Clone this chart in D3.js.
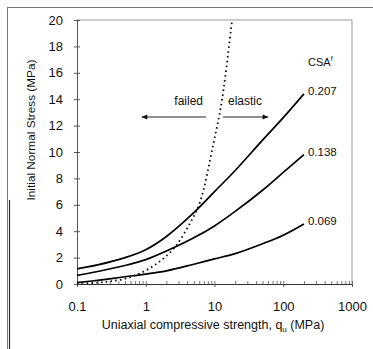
<!DOCTYPE html>
<html><head><meta charset="utf-8">
<script src="https://cdn.jsdelivr.net/npm/d3@7"></script>
<style>
html,body{margin:0;padding:0;background:#fff;}
svg{display:block;font-family:"Liberation Sans",Arial,sans-serif;}
</style></head>
<body>
<svg id="c" width="373" height="349"></svg>
<script>
// ---- data ----
const qValues = [0.1, 0.2, 0.5, 1, 2, 5, 10, 20, 50, 100, 200];
const csa207 = [1.15, 1.45, 2.0, 2.6, 3.6, 5.4, 7.0, 8.6, 10.9, 12.6, 14.4];
const csa138 = [0.65, 0.95, 1.4, 1.85, 2.5, 3.5, 4.4, 5.5, 7.1, 8.45, 9.8];
const csa069 = [0.1, 0.28, 0.55, 0.75, 1.0, 1.5, 1.9, 2.3, 3.05, 3.7, 4.55];
const seriesLabels = ["0.207", "0.138", "0.069"];
const boundaryQ = [0.1, 0.2, 0.3, 0.5, 0.82, 1.5, 2.66, 4.4, 6.15, 9.6, 12.9, 18];
const boundaryS = [0.02, 0.1, 0.2, 0.4, 0.8, 1.6, 2.8, 4.6, 6.2, 10.6, 14, 20];
const xTickLabels = [0.1, 1, 10, 100, 1000];
const yTickValues = [0, 2, 4, 6, 8, 10, 12, 14, 16, 18, 20];

const svg = d3.select("#c");
const L = 77, R = 352, T = 20, B = 284;
const x = d3.scaleLog().domain([0.1, 1000]).range([L, R]);
const y = d3.scaleLinear().domain([0, 20]).range([B, T]);

// outer frame of the scanned figure
svg.append("line").attr("x1",7).attr("x2",373).attr("y1",7.5).attr("y2",7.5).attr("stroke","#777").attr("stroke-width",1);
svg.append("line").attr("x1",7.5).attr("x2",7.5).attr("y1",7).attr("y2",349).attr("stroke","#777").attr("stroke-width",1);
svg.append("line").attr("x1",9.5).attr("x2",9.5).attr("y1",200).attr("y2",349).attr("stroke","#333").attr("stroke-width",1.2);

// plot frame (top, right)
svg.append("path").attr("d",`M${L},${T}H${R}V${B}`).attr("fill","none").attr("stroke","#999").attr("stroke-width",1);

// minor ticks inside x axis
const allX = [];
for (let d = 0.1; d < 1000; d *= 10) for (let k = 1; k < 10; k++) allX.push(+(d*k).toPrecision(3));
allX.push(1000);
const gxIn = svg.append("g").attr("transform",`translate(0,${B})`)
  .call(d3.axisTop(x).tickValues(allX).tickSize(3).tickSizeOuter(0).tickFormat(""));
gxIn.select(".domain").remove();
gxIn.selectAll("line").attr("stroke","#555").attr("stroke-width",0.8);

const gx = svg.append("g").attr("transform",`translate(0,${B})`)
  .call(d3.axisBottom(x).tickValues(xTickLabels).tickSize(3).tickSizeOuter(0).tickPadding(15)
    .tickFormat(d => String(d)));
gx.select(".domain").attr("stroke","#333").attr("stroke-width",1);
gx.selectAll("line").attr("stroke","#555");
gx.selectAll("text").attr("font-size",13).attr("fill","#111").attr("font-family","Liberation Sans, Arial, sans-serif");

const gyIn = svg.append("g").attr("transform",`translate(${L},0)`)
  .call(d3.axisRight(y).tickValues(yTickValues).tickSize(3).tickSizeOuter(0).tickFormat(""));
gyIn.select(".domain").remove();
gyIn.selectAll("line").attr("stroke","#555");

const gy = svg.append("g").attr("transform",`translate(${L},0)`)
  .call(d3.axisLeft(y).tickValues(yTickValues).tickSize(3).tickSizeOuter(0).tickPadding(11));
gy.select(".domain").attr("stroke","#555").attr("stroke-width",1);
gy.selectAll("line").attr("stroke","#555");
gy.selectAll("text").attr("font-size",13).attr("fill","#111").attr("font-family","Liberation Sans, Arial, sans-serif");

// axis titles
const xt = svg.append("text").attr("x",213).attr("y",329).attr("text-anchor","middle")
  .attr("font-size",12.5).attr("fill","#111");
xt.append("tspan").text("Uniaxial compressive strength, q");
xt.append("tspan").attr("font-size",8).attr("dy",3).text("u");
xt.append("tspan").attr("dy",-3).text(" (MPa)");

svg.append("text").attr("transform","translate(35,130) rotate(-90)").attr("text-anchor","middle")
  .attr("font-size",11.8).attr("fill","#111").text("Initial Normal Stress (MPa)");

// curves
const line = d3.line().x(d => x(d[0])).y(d => y(d[1])).curve(d3.curveCatmullRom.alpha(0.5));
const series = [csa207, csa138, csa069];
series.forEach((vals, i) => {
  const pts = qValues.map((q, j) => [q, vals[j]]);
  svg.append("path").attr("d", line(pts)).attr("fill","none").attr("stroke","#000").attr("stroke-width",1.7);
  const last = pts[pts.length-1];
  svg.append("text").attr("x", x(last[0]) + 4).attr("y", y(last[1]) + 1)
    .attr("font-size",11.5).attr("fill","#111").text(seriesLabels[i]);
});

// failure boundary (dotted)
const bpts = boundaryQ.map((q, j) => [q, boundaryS[j]]);
svg.append("path").attr("d", line(bpts)).attr("fill","none").attr("stroke","#111")
  .attr("stroke-width",1.8).attr("stroke-dasharray","1.6,3.2");

// CSA label
const csa = svg.append("text").attr("x",308).attr("y",66).attr("font-size",11).attr("fill","#111");
csa.append("tspan").text("CSA");
csa.append("tspan").attr("font-size",7).attr("dy",-5).text("f");

// arrows
svg.append("defs").append("marker").attr("id","ah").attr("viewBox","0 0 10 10")
  .attr("refX",9).attr("refY",5).attr("markerWidth",7).attr("markerHeight",6)
  .attr("markerUnits","userSpaceOnUse").attr("orient","auto")
  .append("path").attr("d","M0,1L10,5L0,9Z").attr("fill","#111");
const ay = y(12.65);
svg.append("line").attr("x1", x(7.5)).attr("x2", x(0.88)).attr("y1", ay).attr("y2", ay)
  .attr("stroke","#222").attr("stroke-width",1.1).attr("marker-end","url(#ah)");
svg.append("line").attr("x1", x(13.3)).attr("x2", x(60)).attr("y1", ay).attr("y2", ay)
  .attr("stroke","#222").attr("stroke-width",1.1).attr("marker-end","url(#ah)");
svg.append("text").attr("x",203).attr("y",105).attr("text-anchor","end").attr("font-size",12).attr("fill","#111").text("failed");
svg.append("text").attr("x",228).attr("y",105).attr("font-size",12).attr("fill","#111").text("elastic");
</script>
</body></html>
